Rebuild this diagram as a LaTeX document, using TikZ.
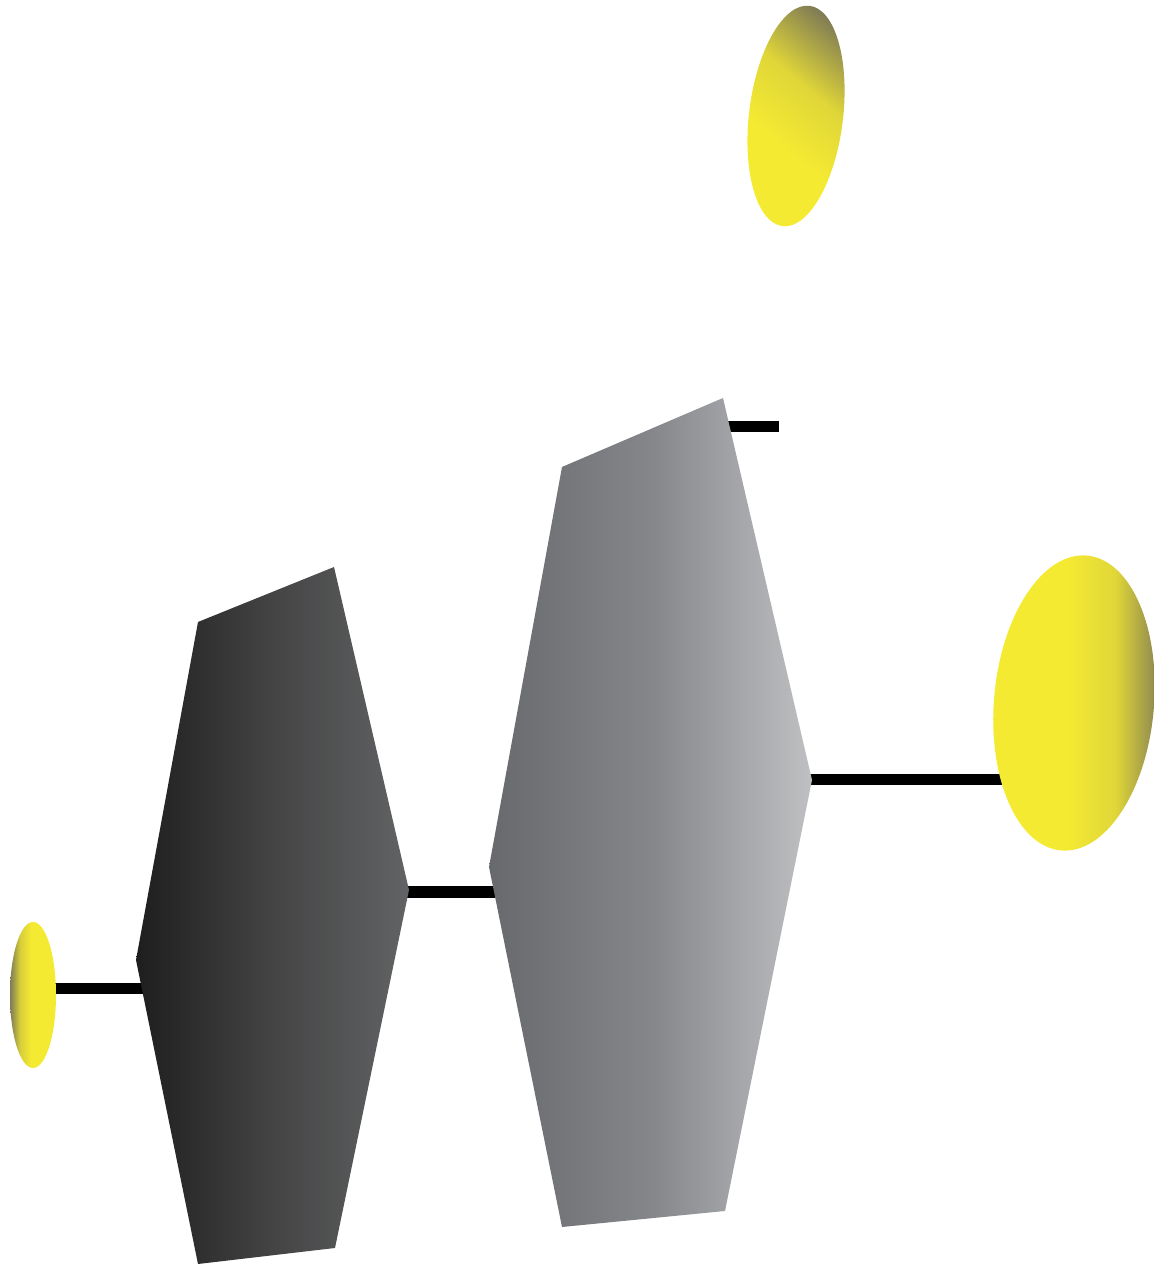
\documentclass[tikz,border=0pt]{standalone}
\usetikzlibrary{calc}
\definecolor{hexonedark}{HTML}{1E1E1F}
\definecolor{hexonemid}{HTML}{444445}
\definecolor{hexonelight}{HTML}{626364}
\definecolor{hextwodark}{HTML}{68696C}
\definecolor{hextwomid}{HTML}{85868A}
\definecolor{hextwolight}{HTML}{BEC0C2}
\definecolor{lampyellow}{HTML}{F5EA32}
\definecolor{lampdim}{HTML}{7E7A55}

% shadings for the three lamps
\pgfdeclarehorizontalshading{lampleftdim}{100bp}{color(0bp)=(lampdim); color(25bp)=(lampdim);
  color(36bp)=(lampyellow!75!lampdim); color(48bp)=(lampyellow); color(100bp)=(lampyellow)}
\pgfdeclarehorizontalshading{lamprightdim}{100bp}{color(0bp)=(lampyellow); color(48bp)=(lampyellow);
  color(62bp)=(lampyellow!82!lampdim); color(76bp)=(lampdim); color(100bp)=(lampdim)}
\pgfdeclareverticalshading{lamptopdim}{100bp}{color(0bp)=(lampyellow); color(40bp)=(lampyellow);
  color(58bp)=(lampyellow!82!lampdim); color(78bp)=(lampdim); color(100bp)=(lampdim)}

\begin{document}
\begin{tikzpicture}[
    x=0.01cm, y=0.01cm,
    wire/.style={draw=black, line width=0.11cm},
    hexone/.style={left color=hexonedark, right color=hexonelight, middle color=hexonemid},
    hextwo/.style={left color=hextwodark, right color=hextwolight, middle color=hextwomid}
  ]
  \useasboundingbox (0,0) rectangle (1155,1266);

  % ---- Corner points ----
  \coordinate (h1tl) at (198,644);
  \coordinate (h1tr) at (334,699);
  \coordinate (h1r)  at (409,376);
  \coordinate (h1br) at (335,18);
  \coordinate (h1bl) at (198,2);
  \coordinate (h1l)  at (136,306);

  \coordinate (h2tl) at (562,799);
  \coordinate (h2tr) at (723,868);
  \coordinate (h2r)  at (812,486);
  \coordinate (h2br) at (725,55);
  \coordinate (h2bl) at (562,39);
  \coordinate (h2l)  at (489,399);

  % lamp centres
  \coordinate (lampS) at (33,271);
  \coordinate (lampR) at (1074,563);
  \coordinate (lampT) at (796,1150);

  % wire ports
  \coordinate (h1in)   at (145,277.5);
  \coordinate (h1out)  at (400,374);
  \coordinate (h2in)   at (498,374);
  \coordinate (h2out)  at (805,486.5);
  \coordinate (h2top)  at (728,839);
  \coordinate (topend) at (779,839);

  % ---- Wires (behind the shapes) ----
  \draw[wire] (lampS |- h1in) -- (h1in);
  \draw[wire] (h1out) -- (h2in);
  \draw[wire] (h2out) -- (h2out -| lampR);
  \draw[wire] (h2top) -- (topend);

  % ---- Hexagons ----
  \shade[hexone] (h1tl) -- (h1tr) -- (h1r) -- (h1br) -- (h1bl) -- (h1l) -- cycle;
  \shade[hextwo] (h2tl) -- (h2tr) -- (h2r) -- (h2br) -- (h2bl) -- (h2l) -- cycle;

  % ---- Lamps ----
  \shade[shading=lampleftdim] (lampS) ellipse [x radius=23, y radius=73];
  \shade[shading=lamprightdim, rotate around={-5:(lampR)}]
    (lampR) ellipse [x radius=80, y radius=148];
  \shade[shading=lamptopdim, shading angle=-40, rotate around={-7:(lampT)}]
    (lampT) ellipse [x radius=47, y radius=111];

\end{tikzpicture}
\end{document}
